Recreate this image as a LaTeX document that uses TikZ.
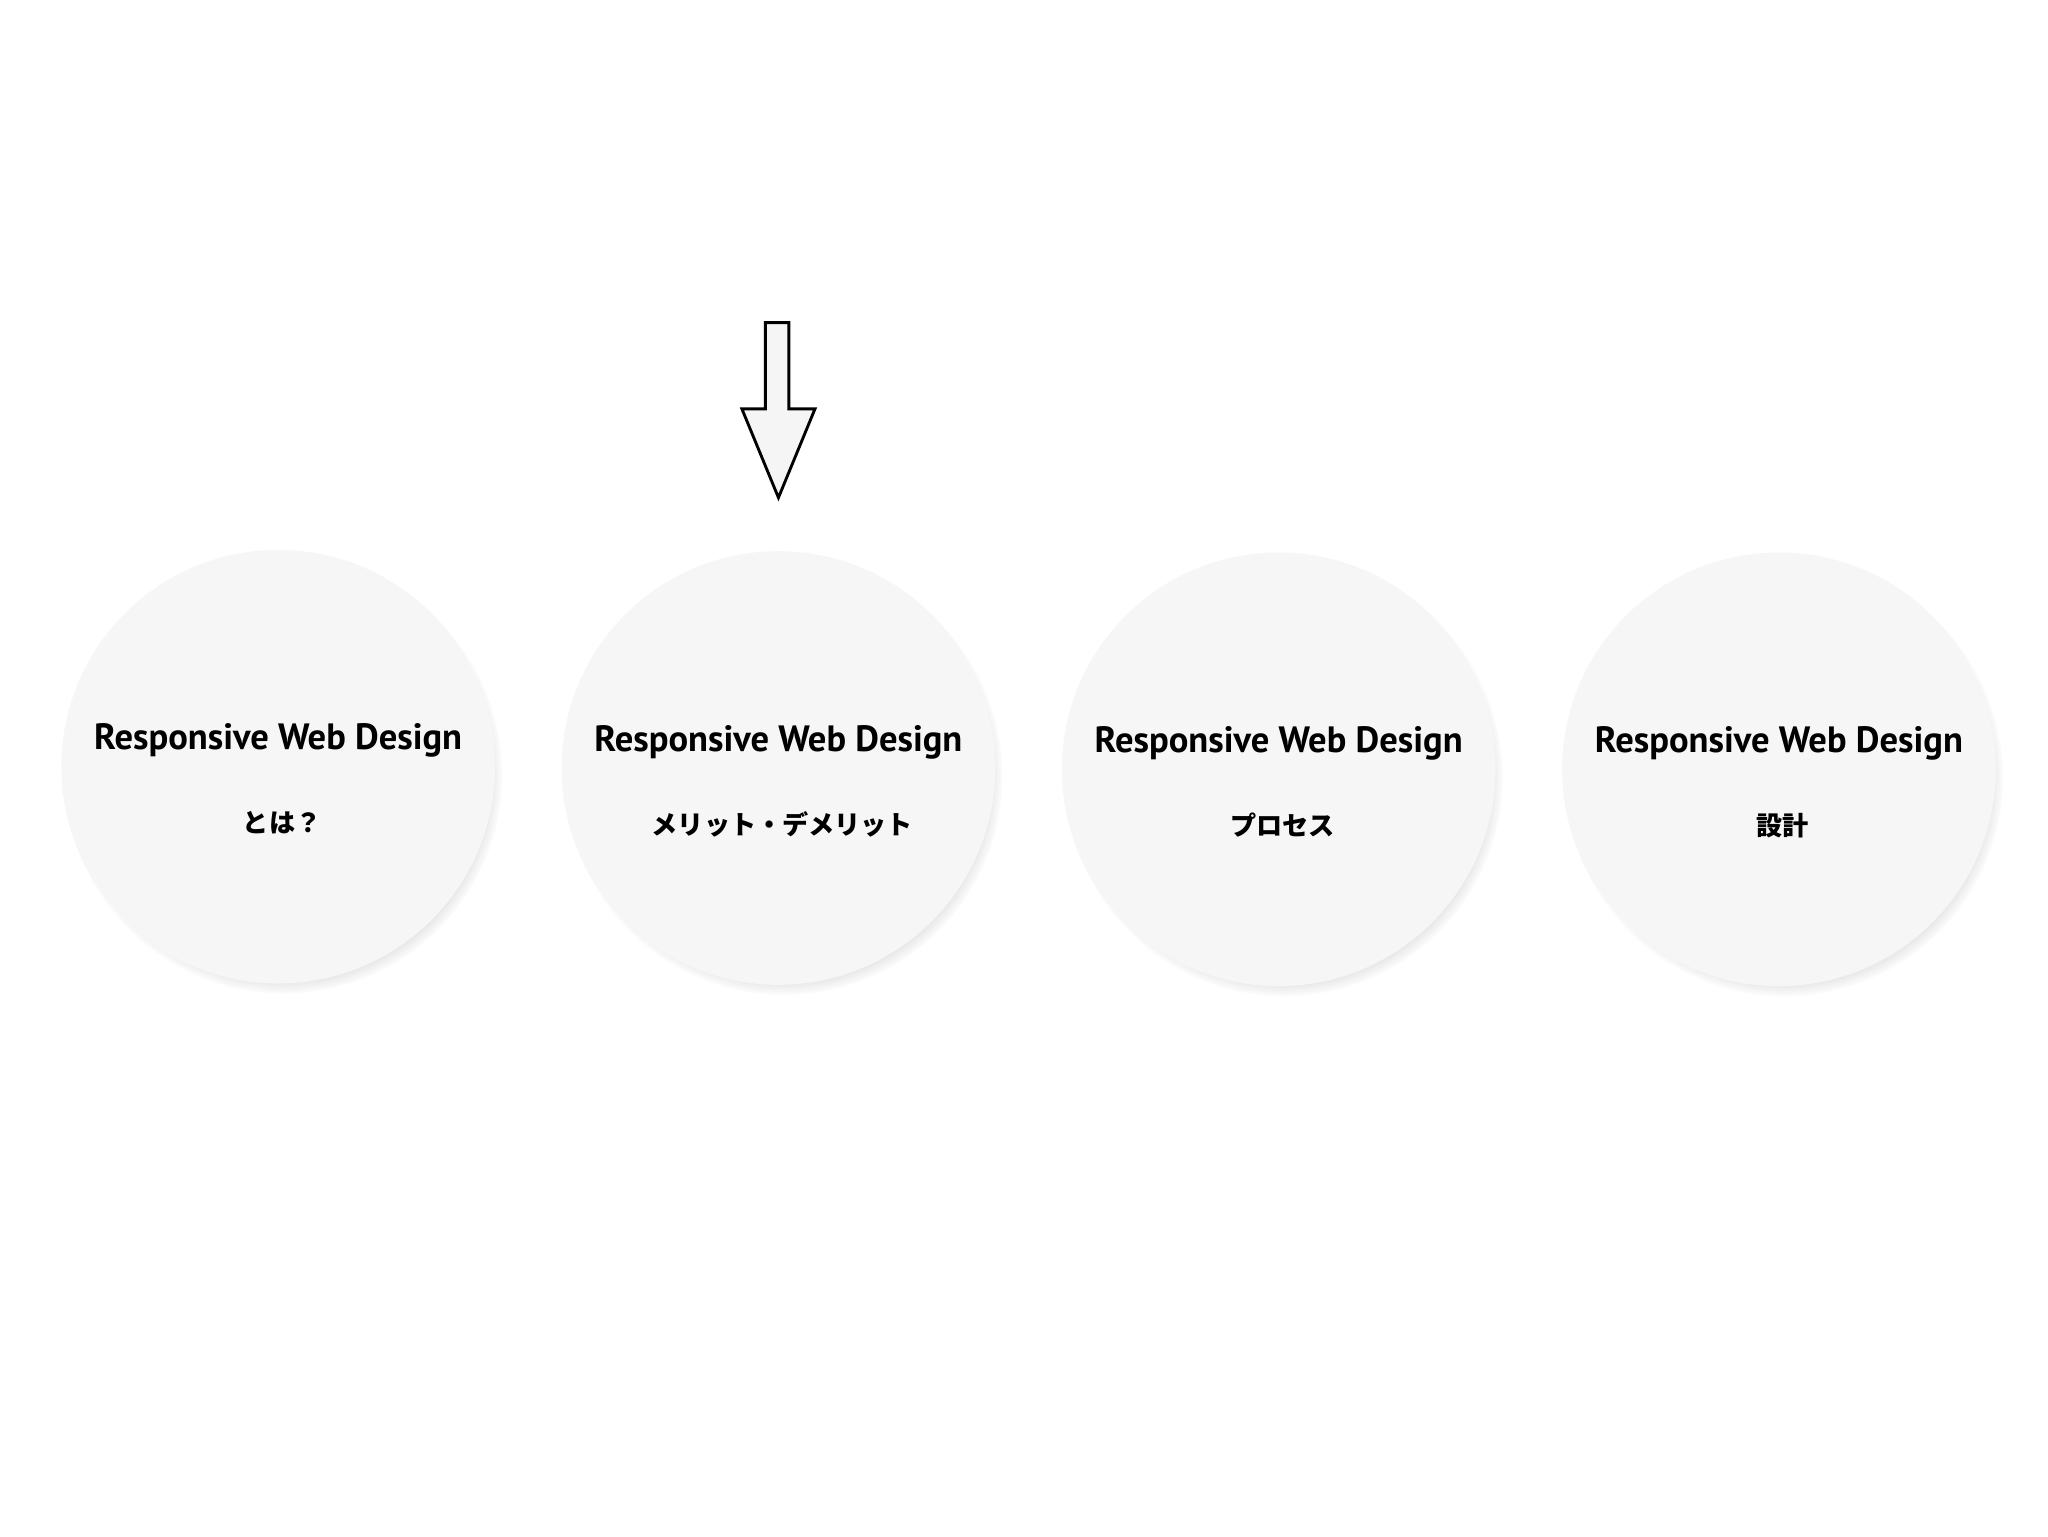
\documentclass[tikz,border=0pt]{standalone}
\usepackage{fontspec}
\setmainfont{PT Sans}
\newfontfamily\jp{Noto Sans CJK JP}
\usetikzlibrary{shadows}
\begin{document}
\begin{tikzpicture}[x=1pt,y=-1pt,
  disc/.style={circle,minimum size=332pt,fill=black!3.5,inner sep=0pt,
    circular drop shadow={shadow xshift=4pt,shadow yshift=-6pt,fill=black!45,opacity=0.5,shadow scale=1.01}},
  ttl/.style={font=\fontsize{28}{30}\selectfont\bfseries},
  sub/.style={font=\jp\fontsize{20}{22}\selectfont\bfseries}]
\useasboundingbox[fill=white] (0,0) rectangle (1568,1176);
\foreach \i/\x/\y/\t in {1/213/587/とは？,2/596/588/メリット・デメリット,3/979/589/プロセス,4/1362/589/設計}{
  \node[disc] (c\i) at (\x,\y) {};
  \node[ttl] (t\i) at (\x,\y-20) {Responsive Web Design};
  \node[sub] (s\i) at (\x+3,\y+43) {\t};
}
\draw[line width=2.2pt,fill=black!4,line join=miter]
  (586,247) -- (604,247) -- (604,313) -- (624,313) -- (596,381) -- (568,313) -- (586,313) -- cycle;
\end{tikzpicture}
\end{document}
